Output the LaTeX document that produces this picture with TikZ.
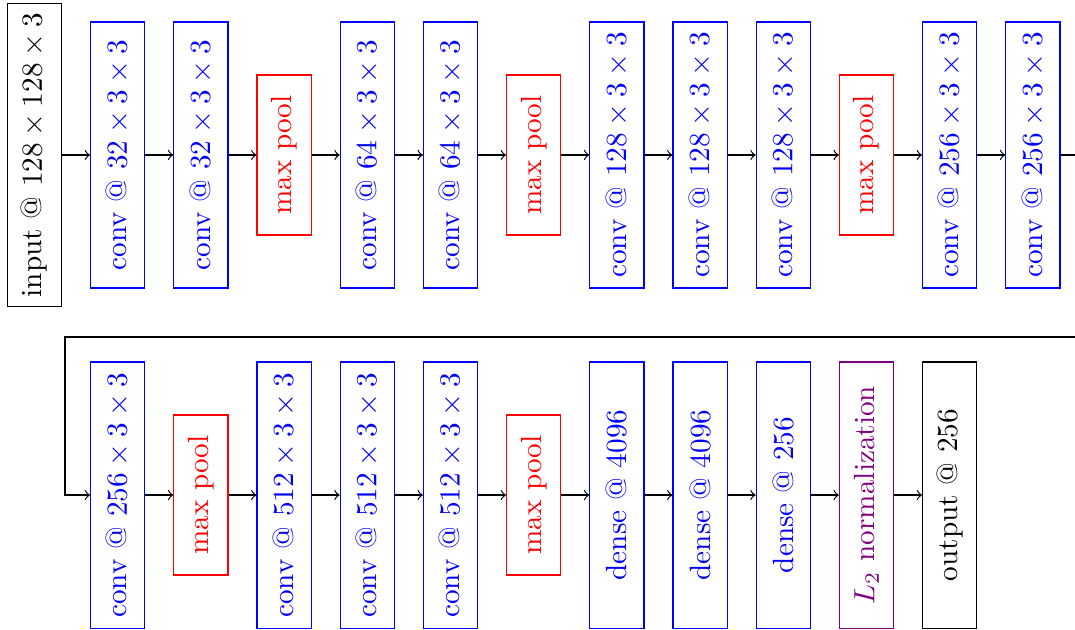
\documentclass[tikz,border=0pt]{standalone}
\usepackage{amsmath}
\usetikzlibrary{positioning}

\begin{document}
\begin{tikzpicture}[>=to,
    layer/.style={draw,rotate=90,minimum height=18.5pt,inner sep=3.3pt},
    inbox/.style={layer,black},
    convbox/.style={layer,blue,minimum width=91pt},
    poolbox/.style={layer,red,minimum width=54.7pt},
    normbox/.style={layer,violet,minimum width=91pt},
    outbox/.style={layer,black,minimum width=91pt}]
  % fixed frame (the right end of the wrap line is cut off)
  \useasboundingbox (-0.415,-5.709) rectangle (12.506,1.863);
  % first row
  \node[inbox]   (inp) at (0,0)  {input @ $128\times128\times3$};
  \node[convbox] (l1)  at (1,0)  {conv @ $32\times3\times3$};
  \node[convbox] (l2)  at (2,0)  {conv @ $32\times3\times3$};
  \node[poolbox] (l3)  at (3,0)  {max pool};
  \node[convbox] (l4)  at (4,0)  {conv @ $64\times3\times3$};
  \node[convbox] (l5)  at (5,0)  {conv @ $64\times3\times3$};
  \node[poolbox] (l6)  at (6,0)  {max pool};
  \node[convbox] (l7)  at (7,0)  {conv @ $128\times3\times3$};
  \node[convbox] (l8)  at (8,0)  {conv @ $128\times3\times3$};
  \node[convbox] (l9)  at (9,0)  {conv @ $128\times3\times3$};
  \node[poolbox] (l10) at (10,0) {max pool};
  \node[convbox] (l11) at (11,0) {conv @ $256\times3\times3$};
  \node[convbox] (l12) at (12,0) {conv @ $256\times3\times3$};
  % second row
  \node[convbox] (l13) at (1,-4.087)  {conv @ $256\times3\times3$};
  \node[poolbox] (l14) at (2,-4.087)  {max pool};
  \node[convbox] (l15) at (3,-4.087)  {conv @ $512\times3\times3$};
  \node[convbox] (l16) at (4,-4.087)  {conv @ $512\times3\times3$};
  \node[convbox] (l17) at (5,-4.087)  {conv @ $512\times3\times3$};
  \node[poolbox] (l18) at (6,-4.087)  {max pool};
  \node[convbox] (l19) at (7,-4.087)  {dense @ 4096};
  \node[convbox] (l20) at (8,-4.087)  {dense @ 4096};
  \node[convbox] (l21) at (9,-4.087)  {dense @ 256};
  \node[normbox] (l22) at (10,-4.087) {$L_2$ normalization};
  \node[outbox]  (l23) at (11,-4.087) {output @ 256};
  % connections
  \foreach \a/\b in {inp/l1,l1/l2,l2/l3,l3/l4,l4/l5,l5/l6,l6/l7,l7/l8,l8/l9,
                     l9/l10,l10/l11,l11/l12,l13/l14,l14/l15,l15/l16,l16/l17,
                     l17/l18,l18/l19,l19/l20,l20/l21,l21/l22,l22/l23}
    \draw[->] (\a) -- (\b);
  \coordinate (wrapR) at (12.8,-2.188);
  \coordinate (wrapL) at (0.367,-2.188);
  \draw[->] (l12) -| (wrapR) -- (wrapL) |- (l13);
\end{tikzpicture}
\end{document}
